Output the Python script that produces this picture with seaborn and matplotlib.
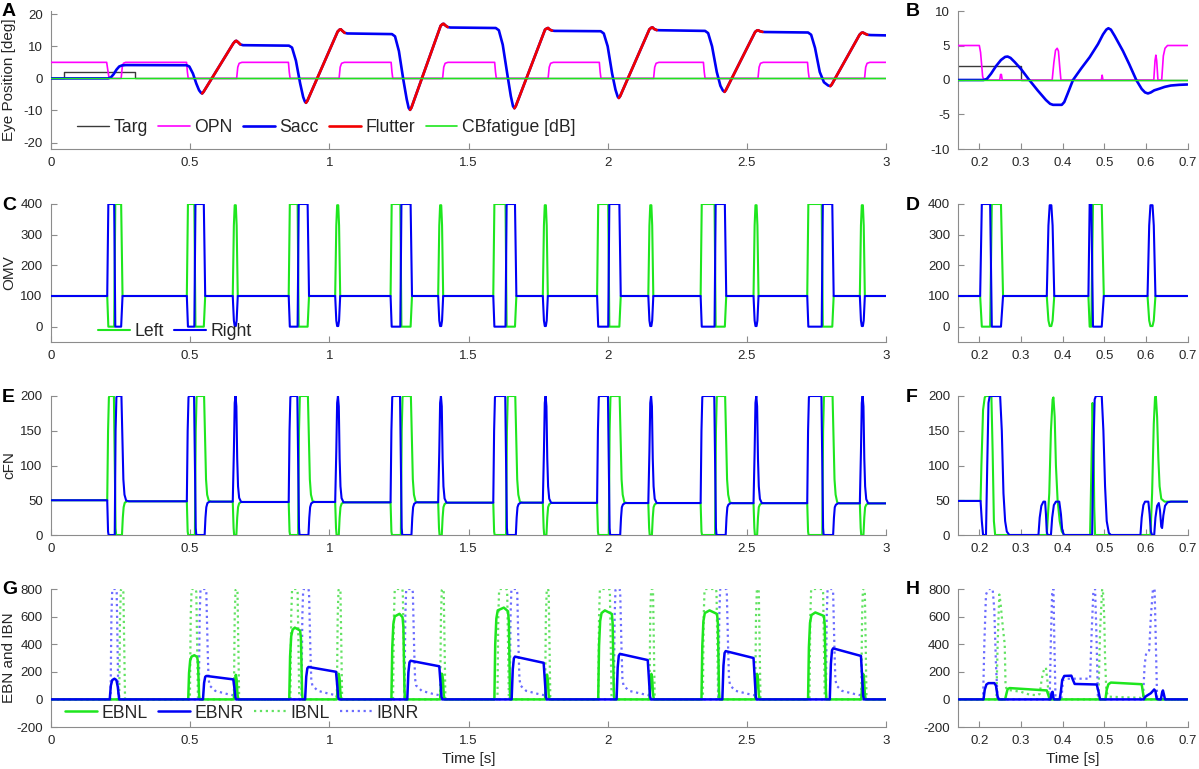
import numpy as np
import pandas as pd
import matplotlib
matplotlib.use("Agg")
import matplotlib.pyplot as plt
from matplotlib.lines import Line2D
import seaborn as sns

# =============== DATA ===============
# ---- Panel A : eye position, 0-3 s ----
targ_t = [0.0, 0.048, 0.048, 0.300, 0.300, 3.0]
targ_v = [0, 0, 2, 2, 0, 0]

opn_t = [0.0, 0.200, 0.206, 0.209, 0.252, 0.256, 0.260, 0.268, 0.487, 0.490, 0.493,
         0.667, 0.671, 0.676, 0.686, 0.853, 0.856, 0.859,
         1.035, 1.039, 1.044, 1.054, 1.222, 1.225, 1.228,
         1.407, 1.411, 1.416, 1.426, 1.594, 1.597, 1.600,
         1.786, 1.790, 1.795, 1.805, 1.970, 1.973, 1.976,
         2.165, 2.169, 2.174, 2.184, 2.344, 2.347, 2.350,
         2.540, 2.544, 2.549, 2.559, 2.718, 2.721, 2.724,
         2.923, 2.927, 2.932, 2.942, 3.000]
opn_v = [5, 5, 1.5, 0, 0, 3.5, 4.7, 5, 5, 2, 0,
         0, 3.5, 4.7, 5, 5, 2, 0,
         0, 3.5, 4.7, 5, 5, 2, 0,
         0, 3.5, 4.7, 5, 5, 2, 0,
         0, 3.5, 4.7, 5, 5, 2, 0,
         0, 3.5, 4.7, 5, 5, 2, 0,
         0, 3.5, 4.7, 5, 5, 2, 0,
         0, 3.5, 4.7, 5, 5]

sacc_t = [0.0, 0.205, 0.215, 0.225, 0.235, 0.245, 0.255, 0.270, 0.487,
          0.497, 0.510, 0.522, 0.532, 0.539, 0.543,
          0.548, 0.655, 0.662, 0.666, 0.672, 0.680, 0.690, 0.855,
          0.866, 0.880, 0.895, 0.906, 0.912, 0.916,
          0.921, 1.030, 1.037, 1.041, 1.047, 1.055, 1.065, 1.225,
          1.236, 1.250, 1.266, 1.278, 1.285, 1.290,
          1.295, 1.400, 1.407, 1.411, 1.417, 1.425, 1.435, 1.598,
          1.609, 1.623, 1.640, 1.652, 1.660, 1.665,
          1.670, 1.775, 1.782, 1.786, 1.792, 1.800, 1.810, 1.975,
          1.986, 2.000, 2.016, 2.028, 2.036, 2.040,
          2.045, 2.150, 2.157, 2.161, 2.167, 2.176, 2.190, 2.350,
          2.361, 2.375, 2.392, 2.405, 2.414, 2.420,
          2.425, 2.530, 2.537, 2.541, 2.547, 2.556, 2.565, 2.720,
          2.731, 2.745, 2.762, 2.777, 2.792, 2.800,
          2.805, 2.905, 2.912, 2.917, 2.923, 2.933, 2.945, 3.000]
sacc_v = [0, 0, 0.3, 1.3, 2.7, 3.7, 4.05, 4.15, 4.1,
          3.7, 1.5, -1.6, -3.7, -4.5, -4.7,
          -4.2, 10.9, 11.6, 11.7, 11.3, 10.6, 10.35, 10.2,
          9.6, 5.5, -1.5, -5.8, -7.2, -7.6,
          -7.0, 14.6, 15.2, 15.3, 14.8, 14.2, 14.0, 13.8,
          13.1, 8.5, -0.5, -6.5, -9.2, -9.8,
          -9.1, 16.4, 16.95, 17.0, 16.5, 16.0, 15.85, 15.7,
          15.0, 10.5, 1.0, -5.5, -8.7, -9.3,
          -8.6, 15.2, 15.6, 15.7, 15.2, 14.9, 14.8, 14.7,
          14.0, 10.0, 1.5, -3.5, -5.7, -6.1,
          -5.5, 15.3, 15.8, 15.9, 15.4, 15.05, 15.0, 14.8,
          14.1, 10.0, 2.0, -2.3, -3.8, -4.2,
          -3.6, 14.5, 14.95, 15.0, 14.7, 14.5, 14.45, 14.3,
          13.6, 9.5, 2.0, -1.2, -2.2, -2.4,
          -1.9, 13.6, 14.2, 14.3, 14.0, 13.6, 13.5, 13.4]
# red (Flutter) stretches of the same trace
flutter_start = [0.543, 0.916, 1.290, 1.665, 2.040, 2.420, 2.800]
flutter_end = [0.680, 1.055, 1.425, 1.800, 2.176, 2.556, 2.933]
cbf_t = [0.0, 3.0]
cbf_v = [0, 0]

# ---- Panel B : eye position, 0.15-0.7 s ----
b_targ_t = [0.15, 0.300, 0.300, 0.70]
b_targ_v = [2, 2, 0, 0]
b_opn_t = [0.15, 0.200, 0.203, 0.208, 0.211, 0.249, 0.251, 0.253, 0.255,
           0.375, 0.379, 0.383, 0.387, 0.390, 0.393, 0.396, 0.493, 0.495, 0.497,
           0.619, 0.622, 0.624, 0.626, 0.629, 0.638, 0.642, 0.646, 0.652, 0.70]
b_opn_v = [5, 5, 4, 0.5, 0, 0, 0.8, 0.8, 0,
           0, 2.5, 4.3, 4.6, 4.2, 2, 0, 0, 0.7, 0,
           0, 2.8, 3.6, 2.8, 0, 0, 3.5, 4.6, 5, 5]
b_sacc_t = [0.15, 0.210, 0.218, 0.228, 0.240, 0.252, 0.262, 0.268, 0.275, 0.285,
            0.300, 0.320, 0.340, 0.360, 0.370, 0.377, 0.398, 0.404, 0.412, 0.425,
            0.445, 0.465, 0.485, 0.497, 0.505, 0.510, 0.516, 0.525, 0.545, 0.560,
            0.577, 0.590, 0.598, 0.605, 0.612, 0.620, 0.633, 0.645, 0.660, 0.680, 0.70]
b_sacc_v = [0, 0, 0.15, 0.9, 2.0, 2.9, 3.35, 3.4, 3.2, 2.6,
            1.6, 0.0, -1.5, -2.9, -3.45, -3.6, -3.6, -3.2, -2.0, 0.0,
            1.7, 3.3, 5.2, 6.6, 7.3, 7.5, 7.3, 6.4, 4.2, 2.3,
            0.0, -1.3, -1.8, -1.95, -1.8, -1.5, -1.25, -1.0, -0.8, -0.7, -0.65]

# ---- Panel C : OMV events, 0-3 s ----
omv_pair_on = [0.202, 0.488, 0.854, 1.220, 1.589, 1.962, 2.334, 2.717]
omv_pair_switch = [0.229, 0.517, 0.888, 1.257, 1.635, 2.004, 2.386, 2.771]
omv_pair_off = [0.255, 0.552, 0.925, 1.295, 1.670, 2.045, 2.424, 2.810]
omv_pair_first = ['R', 'L', 'L', 'L', 'L', 'L', 'L', 'L']
omv_single_on = [0.653, 1.021, 1.391, 1.767, 2.146, 2.524, 2.906]
omv_single_dt = [0.0, 0.004, 0.007, 0.011, 0.014, 0.018]
omv_single_up = [100, 330, 396, 396, 330, 100]
omv_single_down = [100, 20, 2, 2, 20, 100]
omv_rest, omv_high, omv_low = 100, 400, 0

# ---- Panel D : OMV, 0.15-0.7 s ----
d_t = [0.15, 0.202, 0.206, 0.226, 0.230, 0.252, 0.257, 0.362, 0.366, 0.369, 0.373, 0.376, 0.380,
       0.462, 0.465, 0.469, 0.473, 0.494, 0.499, 0.604, 0.608, 0.611, 0.616, 0.619, 0.623, 0.70]
d_left = [100, 100, 0, 0, 400, 400, 100, 100, 20, 2, 2, 20, 100,
          100, 0, 0, 400, 400, 100, 100, 20, 2, 2, 20, 100, 100]
d_right = [100, 100, 400, 400, 0, 0, 100, 100, 330, 396, 396, 330, 100,
           100, 400, 400, 0, 0, 100, 100, 330, 396, 396, 330, 100, 100]

# ---- Panel E : cFN baseline level after each event ----
cfn_level = [50, 48.5, 48, 47.5, 47.5, 47, 47, 46.5, 46.5, 46.2, 46, 46, 45.8, 45.8, 45.6, 45.5]

# ---- Panel F : cFN, 0.15-0.7 s ----
f_right_t = [0.15, 0.203, 0.206, 0.209, 0.216, 0.219, 0.222, 0.225, 0.250, 0.254, 0.258, 0.262, 0.266, 0.272,
             0.342, 0.345, 0.349, 0.354, 0.358, 0.360, 0.362, 0.364, 0.372, 0.375, 0.379, 0.384, 0.392, 0.396, 0.399, 0.403,
             0.471, 0.474, 0.477, 0.480, 0.494, 0.498, 0.502, 0.506, 0.511, 0.516,
             0.587, 0.590, 0.594, 0.598, 0.606, 0.609, 0.612, 0.615, 0.620, 0.623, 0.627, 0.631, 0.634, 0.637, 0.639,
             0.642, 0.646, 0.652, 0.660, 0.70]
f_right_v = [49, 49, 20, 0, 0, 100, 190, 200, 200, 150, 60, 20, 5, 0,
             0, 25, 42, 48, 48, 30, 5, 0, 0, 25, 43, 48, 48, 30, 8, 0,
             0, 120, 195, 200, 200, 150, 70, 20, 3, 0,
             0, 25, 43, 48, 48, 30, 5, 0, 0, 25, 42, 46, 35, 12, 10,
             28, 42, 47, 48, 48]
f_left_t = [0.15, 0.203, 0.205, 0.209, 0.213, 0.216, 0.229, 0.232, 0.235, 0.238,
            0.362, 0.368, 0.372, 0.376, 0.378, 0.381, 0.384, 0.388, 0.393, 0.398, 0.404,
            0.466, 0.469, 0.472, 0.474, 0.476, 0.478,
            0.611, 0.615, 0.619, 0.622, 0.624, 0.627, 0.630, 0.633, 0.637, 0.645, 0.70]
f_left_v = [49, 49, 100, 180, 198, 200, 200, 120, 20, 0,
            0, 60, 150, 195, 198, 170, 100, 50, 20, 5, 0,
            0, 90, 190, 150, 40, 0,
            0, 60, 160, 198, 200, 170, 110, 70, 52, 48, 48]

# ---- Panel G : burst neurons, 0-3 s (one entry per saccade cycle) ----
ebnl_rise = [0.493, 0.856, 1.223, 1.593, 1.966, 2.337, 2.720]
ebnl_top_t = [0.515, 0.876, 1.252, 1.627, 1.990, 2.366, 2.746]
ebnl_top = [320, 520, 620, 665, 645, 645, 630]
ebnl_fall = [0.530, 0.900, 1.268, 1.647, 2.020, 2.398, 2.782]
ebnl_spike_t = [0.664, 1.034, 1.405, 1.782, 2.157, 2.537, 2.918]
ebnl_spike = [178, 185, 185, 180, 185, 185, 185]
ebnr_first_t = [0.211, 0.215, 0.220, 0.228, 0.235, 0.240, 0.245]
ebnr_first_v = [0, 100, 140, 150, 140, 90, 0]
ebnr_rise = [0.546, 0.913, 1.280, 1.655, 2.032, 2.412, 2.798]
ebnr_top = [170, 235, 280, 310, 330, 350, 370]
ebnr_fall = [0.655, 1.024, 1.395, 1.770, 2.144, 2.524, 2.910]
ebnr_fall_v = [145, 200, 240, 265, 285, 300, 315]
ibnl_on = [0.245, 0.499, 0.860, 1.229, 1.604, 1.966, 2.342, 2.725]
ibnl_off = [0.262, 0.524, 0.888, 1.266, 1.641, 2.010, 2.393, 2.776]
ibnr_on = [0.214, 0.531, 0.900, 1.270, 1.648, 2.022, 2.398, 2.784]
ibnr_off = [0.238, 0.560, 0.929, 1.302, 1.677, 2.047, 2.430, 2.812]
ibn_peak = 800
ibnr_tail_v = [350, 150, 100, 62, 40, 30]

# ---- Panel H : burst neurons, 0.15-0.7 s ----
h_ibnr_t = [0.15, 0.209, 0.212, 0.216, 0.222, 0.232, 0.236, 0.240, 0.244,
            0.369, 0.372, 0.375, 0.378, 0.380, 0.383,
            0.397, 0.401, 0.410, 0.466, 0.470, 0.474, 0.478, 0.481, 0.485,
            0.593, 0.597, 0.601, 0.608, 0.612, 0.617, 0.621, 0.624, 0.627, 0.70]
h_ibnr_v = [0, 0, 400, 760, 800, 800, 650, 250, 0,
            0, 450, 780, 800, 450, 0,
            0, 140, 150, 150, 500, 790, 800, 500, 0,
            0, 250, 340, 355, 600, 800, 800, 400, 0, 0]
h_ibnl_t = [0.15, 0.241, 0.244, 0.248, 0.251, 0.254, 0.258, 0.261, 0.263, 0.266,
            0.300, 0.320, 0.340, 0.345, 0.350, 0.356, 0.360, 0.364, 0.367, 0.370,
            0.486, 0.490, 0.495, 0.497, 0.500, 0.502, 0.505, 0.510, 0.550, 0.586, 0.590, 0.70]
h_ibnl_v = [0, 0, 400, 760, 700, 600, 480, 400, 100, 70,
            55, 35, 30, 40, 150, 225, 230, 120, 20, 0,
            0, 500, 800, 780, 600, 300, 60, 20, 15, 12, 0, 0]
h_ebnr_t = [0.15, 0.210, 0.213, 0.217, 0.222, 0.236, 0.240, 0.244, 0.247,
            0.371, 0.374, 0.376, 0.378, 0.380,
            0.393, 0.396, 0.399, 0.404, 0.421, 0.425, 0.429, 0.482, 0.486, 0.490,
            0.595, 0.599, 0.603, 0.612, 0.620, 0.623, 0.626, 0.630,
            0.636, 0.639, 0.641, 0.643, 0.646, 0.70]
h_ebnr_v = [0, 0, 70, 108, 118, 118, 100, 20, 0,
            0, 50, 55, 10, 0,
            0, 60, 140, 170, 172, 140, 112, 108, 60, 0,
            0, 20, 28, 45, 72, 60, 5, 0,
            0, 50, 65, 40, 0, 0]
h_ebnl_t = [0.15, 0.262, 0.265, 0.268, 0.273, 0.362, 0.366, 0.369,
            0.503, 0.506, 0.510, 0.516, 0.590, 0.593, 0.596, 0.70]
h_ebnl_v = [0, 0, 40, 75, 82, 65, 30, 0,
            0, 70, 110, 122, 110, 50, 0, 0]

# ---- axes ticks / labels ----
xt_long = [0, 0.5, 1, 1.5, 2, 2.5, 3]
xt_short = [0.2, 0.3, 0.4, 0.5, 0.6, 0.7]
yt_A, yl_A = [-20, -10, 0, 10, 20], (-22, 21)
yt_B, yl_B = [-10, -5, 0, 5, 10], (-10, 10)
yt_C, yl_C = [0, 100, 200, 300, 400], (-50, 400)
yt_E, yl_E = [0, 50, 100, 150, 200], (0, 200)
yt_G, yl_G = [-200, 0, 200, 400, 600, 800], (-200, 800)

# =============== BUILD POLYLINES FROM EVENT TABLES ===============
def build_omv():
    ev = [('p', a, b, c, f) for a, b, c, f in
          zip(omv_pair_on, omv_pair_switch, omv_pair_off, omv_pair_first)]
    ev += [('s', s) for s in omv_single_on]
    ev.sort(key=lambda e: e[1])
    t, L, R = [0.0], [omv_rest], [omv_rest]
    for e in ev:
        if e[0] == 'p':
            _, a, b, c, f = e
            t += [a, a + 0.004, b - 0.002, b + 0.002, c - 0.003, c + 0.002]
            hi = [omv_rest, omv_high, omv_high, omv_low, omv_low, omv_rest]
            lo = [omv_rest, omv_low, omv_low, omv_high, omv_high, omv_rest]
            if f == 'R':
                R += hi; L += lo
            else:
                L += hi; R += lo
        else:
            s = e[1]
            t += [s + d for d in omv_single_dt]
            L += omv_single_up
            R += omv_single_down
    t.append(3.0); L.append(omv_rest); R.append(omv_rest)
    return t, L, R


def build_cfn():
    ev = [('p', a, b, c, f) for a, b, c, f in
          zip(omv_pair_on, omv_pair_switch, omv_pair_off, omv_pair_first)]
    ev += [('s', s) for s in omv_single_on]
    ev.sort(key=lambda e: e[1])
    tL, vL, tR, vR = [0.0], [cfn_level[0]], [0.0], [cfn_level[0]]
    for i, e in enumerate(ev):
        B0, B1 = cfn_level[i], cfn_level[i + 1]
        if e[0] == 'p':
            _, a, b, c, f = e
            tf = [a, a + 0.003, a + 0.006, a + 0.008, b - 0.003, b, b + 0.003, b + 0.005,
                  c, c + 0.003, c + 0.006, c + 0.010, c + 0.018]
            vf = [B0, 150, 198, 200, 200, 100, 10, 0, 0, 25, 40, B1 - 2, B1]
            ts = [a, a + 0.003, a + 0.005, b, b + 0.003, b + 0.006, b + 0.008,
                  c - 0.002, c + 0.002, c + 0.005, c + 0.009, c + 0.015, c + 0.025]
            vs = [B0, 5, 0, 0, 150, 198, 200, 200, 130, 80, 58, B1 + 1, B1]
            if f == 'R':
                tL += tf; vL += vf; tR += ts; vR += vs
            else:
                tR += tf; vR += vf; tL += ts; vL += vs
        else:
            s = e[1]
            tR += [s, s + 0.004, s + 0.007, s + 0.010, s + 0.013, s + 0.016, s + 0.019, s + 0.023, s + 0.03]
            vR += [B0, 120, 190, 200, 185, 110, 70, B1 + 6, B1]
            tL += [s, s + 0.003, s + 0.005, s + 0.013, s + 0.016, s + 0.019, s + 0.023, s + 0.03]
            vL += [B0, 10, 0, 0, 25, 40, B1 - 2, B1]
    tL.append(3.0); vL.append(cfn_level[-1]); tR.append(3.0); vR.append(cfn_level[-1])
    return tL, vL, tR, vR


def pulse_pts(t0, t1, h, with_fall=True):
    t = [t0, t0 + 0.003, t0 + 0.006, t0 + 0.008, t1 - 0.004, t1 - 0.002]
    v = [0, 0.75 * h, 0.99 * h, h, h, 0.97 * h]
    if with_fall:
        t += [t1 + 0.001, t1 + 0.004]
        v += [0.5 * h, 0]
    return t, v


def build_ebn():
    # EBNL
    tl, vl = [0.0], [0]
    for r, tp, H, f, s, S in zip(ebnl_rise, ebnl_top_t, ebnl_top, ebnl_fall, ebnl_spike_t, ebnl_spike):
        tl += [r, r + 0.003, r + 0.007, r + 0.012, tp, f - 0.005, f - 0.002, f + 0.002, f + 0.004]
        vl += [0, 0.6 * H, 0.88 * H, 0.97 * H, H, 0.96 * H, 0.85 * H, 0.1 * H, 0]
        tl += [s - 0.007, s - 0.003, s, s + 0.003, s + 0.006, s + 0.009]
        vl += [0, 0.65 * S, S, 0.8 * S, 0.2 * S, 0]
    tl.append(3.0); vl.append(0)
    # EBNR
    tr, vr = [0.0] + ebnr_first_t, [0] + ebnr_first_v
    for r, R, f, R2 in zip(ebnr_rise, ebnr_top, ebnr_fall, ebnr_fall_v):
        tr += [r, r + 0.004, r + 0.008, r + 0.012, f, f + 0.004, f + 0.008, f + 0.011]
        vr += [0, 0.7 * R, 0.96 * R, R, R2, 0.55 * R2, 0.08 * R2, 0]
    tr.append(3.0); vr.append(0)
    # IBNL
    til, vil = [0.0], [0]
    for k, (a, b) in enumerate(zip(ibnl_on, ibnl_off)):
        pt, pv = pulse_pts(a, b, ibn_peak)
        til += pt; vil += pv
        if k >= 1:
            s = ebnl_spike_t[k - 1]
            pt, pv = pulse_pts(s - 0.007, s + 0.008, ibn_peak)
            til += pt; vil += pv
    til.append(3.0); vil.append(0)
    # IBNR
    tir, vir = [0.0], [0]
    for k, (a, b) in enumerate(zip(ibnr_on, ibnr_off)):
        if k == 0:
            pt, pv = pulse_pts(a, b, ibn_peak)
            tir += pt; vir += pv
        else:
            pt, pv = pulse_pts(a, b, ibn_peak, with_fall=False)
            te = ebnl_spike_t[k - 1] - 0.003
            tir += pt + [b + 0.003, b + 0.006, b + 0.010, b + 0.030, te - 0.030, te - 0.006, te]
            vir += pv + ibnr_tail_v + [0]
    tir.append(3.0); vir.append(0)
    return (tl, vl), (tr, vr), (til, vil), (tir, vir)


# =============== STYLE ===============
sns.set_theme(style="ticks")
plt.rcParams['font.family'] = ['Liberation Sans', 'DejaVu Sans']
plt.rcParams['axes.linewidth'] = 0.8

GREEN = '#1ee61e'
BLUE = '#0000f5'
RED = '#f20000'
MAG = '#ff00ff'
TARG = '#3a3a3a'
LGREEN = '#62e262'
LBLUE = '#6c6cff'
SPINE = '#8c8c8c'
TXT = '#262626'
DOT_LW = 1.6

W, H = 1199, 769
fig = plt.figure(figsize=(W / 100, H / 100), dpi=100)

LEFT_X = (51, 886)
RIGHT_X = (958.5, 1187.5)
ROWS = [(11, 149), (204, 342), (396, 535), (589, 727)]


def px_axes(xr, yr):
    return fig.add_axes([xr[0] / W, 1 - yr[1] / H, (xr[1] - xr[0]) / W, (yr[1] - yr[0]) / H])


def draw(ax, t, v, color, lw, ls='-', z=2, units=None):
    df = pd.DataFrame({'t': np.asarray(t, float), 'v': np.asarray(v, float)})
    kw = {}
    if units is not None:
        df['u'] = units
        kw['units'] = 'u'
    sns.lineplot(data=df, x='t', y='v', ax=ax, color=color, linewidth=lw, linestyle=ls,
                 estimator=None, sort=False, legend=False, zorder=z, **kw)


def style_axes(ax, xlim, xticks, ylim, yticks):
    ax.set_xlim(*xlim)
    ax.set_ylim(*ylim)
    ax.set_xticks(xticks)
    ax.set_xticklabels(['%g' % x for x in xticks])
    ax.set_yticks(yticks)
    ax.set_yticklabels(['%g' % y for y in yticks])
    for s in ['top', 'right']:
        ax.spines[s].set_visible(False)
    for s in ['left', 'bottom']:
        ax.spines[s].set_color(SPINE)
        ax.spines[s].set_linewidth(0.8)
    ax.tick_params(direction='in', length=4, width=0.8, color=SPINE, labelcolor=TXT,
                   labelsize=9.5)
    ax.tick_params(axis='x', pad=6)
    ax.tick_params(axis='y', pad=6)
    ax.set_xlabel('')
    ax.set_ylabel('')
    ax.patch.set_alpha(0)


axA = px_axes(LEFT_X, ROWS[0]); axB = px_axes(RIGHT_X, ROWS[0])
axC = px_axes(LEFT_X, ROWS[1]); axD = px_axes(RIGHT_X, ROWS[1])
axE = px_axes(LEFT_X, ROWS[2]); axF = px_axes(RIGHT_X, ROWS[2])
axG = px_axes(LEFT_X, ROWS[3]); axH = px_axes(RIGHT_X, ROWS[3])

# ---- A ----
draw(axA, targ_t, targ_v, TARG, 1.0, z=2)
draw(axA, opn_t, opn_v, MAG, 1.2, z=3)
draw(axA, sacc_t, sacc_v, BLUE, 1.9, z=4)
st = np.asarray(sacc_t); sv = np.asarray(sacc_v)
ft, fv, fu = [], [], []
for k, (a, b) in enumerate(zip(flutter_start, flutter_end)):
    m = (st >= a - 1e-9) & (st <= b + 1e-9)
    ft += list(st[m]); fv += list(sv[m]); fu += [k] * int(m.sum())
draw(axA, ft, fv, RED, 1.9, z=5, units=fu)
draw(axA, cbf_t, cbf_v, GREEN, 1.0, z=6)
style_axes(axA, (0, 3), xt_long, yl_A, yt_A)

# ---- B ----
draw(axB, b_targ_t, b_targ_v, TARG, 1.0, z=2)
draw(axB, b_opn_t, b_opn_v, MAG, 1.2, z=3)
draw(axB, b_sacc_t, b_sacc_v, BLUE, 1.9, z=4)
draw(axB, [0.15, 0.7], [0, 0], GREEN, 1.0, z=6)
style_axes(axB, (0.15, 0.7), xt_short, yl_B, yt_B)

# ---- C ----
c_t, c_L, c_R = build_omv()
draw(axC, c_t, c_L, GREEN, 1.5, z=3)
draw(axC, c_t, c_R, BLUE, 1.5, z=4)
style_axes(axC, (0, 3), xt_long, yl_C, yt_C)

# ---- D ----
draw(axD, d_t, d_left, GREEN, 1.5, z=3)
draw(axD, d_t, d_right, BLUE, 1.5, z=4)
style_axes(axD, (0.15, 0.7), xt_short, yl_C, yt_C)

# ---- E ----
eL_t, eL_v, eR_t, eR_v = build_cfn()
draw(axE, eL_t, eL_v, GREEN, 1.5, z=3)
draw(axE, eR_t, eR_v, BLUE, 1.5, z=4)
style_axes(axE, (0, 3), xt_long, yl_E, yt_E)

# ---- F ----
draw(axF, f_left_t, f_left_v, GREEN, 1.5, z=3)
draw(axF, f_right_t, f_right_v, BLUE, 1.5, z=4)
style_axes(axF, (0.15, 0.7), xt_short, yl_E, yt_E)

# ---- G ----
(gl_t, gl_v), (gr_t, gr_v), (gil_t, gil_v), (gir_t, gir_v) = build_ebn()
draw(axG, gil_t, gil_v, LGREEN, DOT_LW, ls=':', z=2)
draw(axG, gir_t, gir_v, LBLUE, DOT_LW, ls=':', z=2)
draw(axG, gl_t, gl_v, GREEN, 1.8, z=3)
draw(axG, gr_t, gr_v, BLUE, 1.8, z=4)
style_axes(axG, (0, 3), xt_long, yl_G, yt_G)

# ---- H ----
draw(axH, h_ibnl_t, h_ibnl_v, LGREEN, DOT_LW, ls=':', z=2)
draw(axH, h_ibnr_t, h_ibnr_v, LBLUE, DOT_LW, ls=':', z=2)
draw(axH, h_ebnl_t, h_ebnl_v, GREEN, 1.8, z=3)
draw(axH, h_ebnr_t, h_ebnr_v, BLUE, 1.8, z=4)
style_axes(axH, (0.15, 0.7), xt_short, yl_G, yt_G)

# ---- labels ----
ylab_x = (16 - LEFT_X[0]) / (LEFT_X[1] - LEFT_X[0])
for ax, lab in [(axA, 'Eye Position [deg]'), (axC, 'OMV'), (axE, 'cFN'), (axG, 'EBN and IBN')]:
    ax.set_ylabel(lab, fontsize=11, color=TXT)
    ax.yaxis.set_label_coords(ylab_x, 0.5)
for ax in (axG, axH):
    ax.set_xlabel('Time [s]', fontsize=11, color=TXT)
    ax.xaxis.set_label_coords(0.5, -25 / 138)

for lab, x, row in [('A', 2, 0), ('B', 906, 0), ('C', 2, 1), ('D', 906, 1),
                    ('E', 2, 2), ('F', 906, 2), ('G', 2, 3), ('H', 906, 3)]:
    fig.text(x / W, 1 - (ROWS[row][0] + 1) / H, lab, fontsize=14, fontweight='bold',
             ha='left', va='center', color='black')

# ---- legends ----
leg_kw = dict(frameon=False, fontsize=12.7, handlelength=1.8, handletextpad=0.25,
              columnspacing=0.6, borderpad=0, borderaxespad=0, labelcolor=TXT,
              loc='center left', bbox_transform=fig.transFigure)
legA = [Line2D([], [], color=TARG, lw=1.0), Line2D([], [], color=MAG, lw=1.2),
        Line2D([], [], color=BLUE, lw=1.9), Line2D([], [], color=RED, lw=1.9),
        Line2D([], [], color=GREEN, lw=1.2)]
axA.legend(legA, ['Targ', 'OPN', 'Sacc', 'Flutter', 'CBfatigue [dB]'], ncol=5,
           bbox_to_anchor=(77 / W, 1 - 128 / H), **leg_kw)
legC = [Line2D([], [], color=GREEN, lw=1.5), Line2D([], [], color=BLUE, lw=1.5)]
axC.legend(legC, ['Left', 'Right'], ncol=2,
           bbox_to_anchor=(98 / W, 1 - 332 / H), **leg_kw)
legG = [Line2D([], [], color=GREEN, lw=1.8), Line2D([], [], color=BLUE, lw=1.8),
        Line2D([], [], color=LGREEN, lw=DOT_LW, ls=':'), Line2D([], [], color=LBLUE, lw=DOT_LW, ls=':')]
axG.legend(legG, ['EBNL', 'EBNR', 'IBNL', 'IBNR'], ncol=4,
           bbox_to_anchor=(65 / W, 1 - 713 / H), **leg_kw)

fig.savefig('out.png', dpi=100)
